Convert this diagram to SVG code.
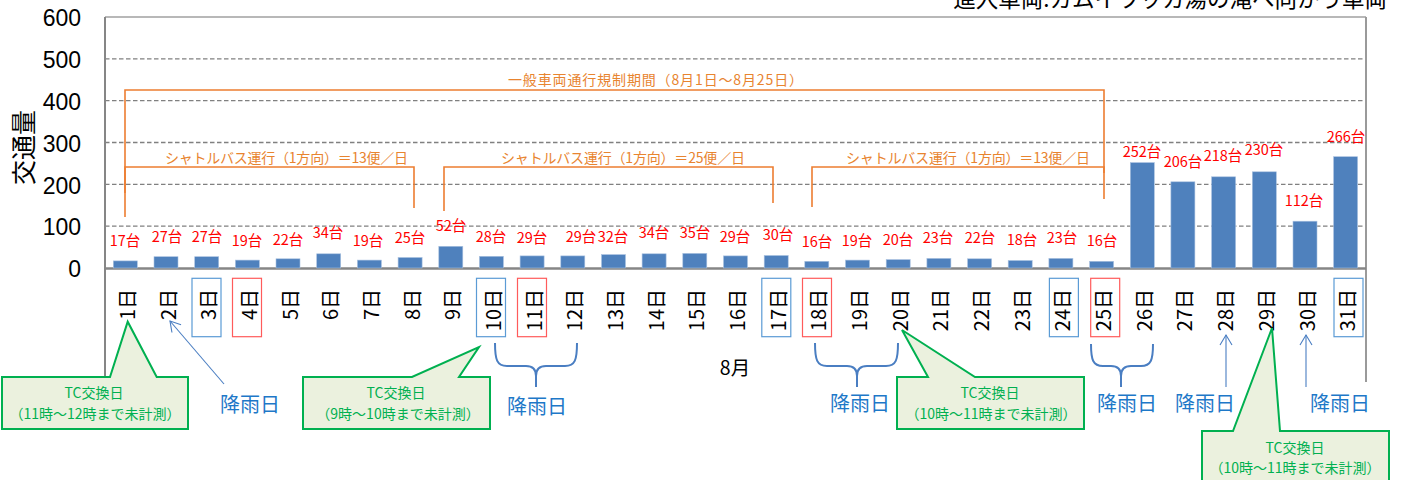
<svg xmlns="http://www.w3.org/2000/svg" width="1404" height="480" viewBox="0 0 1404 480">
<style>
text{font-family:"Noto Sans CJK JP","Liberation Sans",sans-serif}
.ax{font-family:"Liberation Sans","Noto Sans CJK JP",sans-serif;font-size:23px;fill:#000;text-anchor:end}
.grid{stroke:#808080;stroke-width:1.3;stroke-dasharray:4.5 2.5;fill:none}
.bar{fill:#4F81BD;stroke:#A9C1E0;stroke-width:0.6}
.val{font-size:14.5px;fill:#FF0000;text-anchor:middle}
.cat{font-size:20px;fill:#000;text-anchor:end;dominant-baseline:central}
.bb{fill:none;stroke:#5B9BD5;stroke-width:1.2}
.rb{fill:none;stroke:#FF5B5B;stroke-width:1.2}
.or{fill:none;stroke:#ED7D31;stroke-width:1.6}
.ot{font-size:14px;fill:#E8842F}
.br{fill:none;stroke:#4A7EC2;stroke-width:2}
.rain{font-size:20px;fill:#1E78C8;text-anchor:middle}
.arr{stroke:#4A7EC2;stroke-width:1.1;fill:none}
.co{fill:#EBF1DE;stroke:#00B050;stroke-width:2}
.ct{font-size:14px;fill:#00B050;text-anchor:middle}
</style>
<defs>
<marker id="ah" markerUnits="userSpaceOnUse" markerWidth="16" markerHeight="16" viewBox="-12 -8 14 16" refX="0" refY="0" orient="auto">
<path d="M-10,-6 L0,0 L-10,6" fill="none" stroke="#4A7EC2" stroke-width="1.1"/>
</marker>
</defs>
<rect width="1404" height="480" fill="#FFFFFF"/>
<text x="1387" y="7" font-size="22.5" fill="#000" text-anchor="end">進入車両:カムイワッカ湯の滝へ向かう車両</text>
<g id="axes">
<line x1="105" y1="58.8" x2="1366" y2="58.8" class="grid"/>
<line x1="105" y1="100.7" x2="1366" y2="100.7" class="grid"/>
<line x1="105" y1="142.5" x2="1366" y2="142.5" class="grid"/>
<line x1="105" y1="184.3" x2="1366" y2="184.3" class="grid"/>
<line x1="105" y1="226.2" x2="1366" y2="226.2" class="grid"/>
<line x1="105" y1="17" x2="1366" y2="17" stroke="#A0A0A0" stroke-width="1.5"/>
<line x1="1366" y1="17" x2="1366" y2="382" stroke="#9A9A9A" stroke-width="2"/>
<line x1="105" y1="17" x2="105" y2="377" stroke="#868686" stroke-width="2"/>
<line x1="105" y1="268.5" x2="1366" y2="268.5" stroke="#868686" stroke-width="2.5"/>
<text class="ax" x="81" y="26">600</text>
<text class="ax" x="81" y="68">500</text>
<text class="ax" x="81" y="110">400</text>
<text class="ax" x="81" y="152">300</text>
<text class="ax" x="81" y="194">200</text>
<text class="ax" x="81" y="235">100</text>
<text class="ax" x="81" y="277">0</text>
<text transform="translate(22,147.5) rotate(-90)" font-size="25" fill="#000" text-anchor="middle" dominant-baseline="central">交通量</text>
<text x="735" y="375" font-size="19.5" fill="#000" text-anchor="middle">8月</text>
</g>
<g id="bars">
<rect class="bar" x="113.3" y="260.9" width="24" height="7.1"/>
<rect class="bar" x="154.0" y="256.7" width="24" height="11.3"/>
<rect class="bar" x="194.7" y="256.7" width="24" height="11.3"/>
<rect class="bar" x="235.4" y="260.1" width="24" height="7.9"/>
<rect class="bar" x="276.0" y="258.8" width="24" height="9.2"/>
<rect class="bar" x="316.7" y="253.8" width="24" height="14.2"/>
<rect class="bar" x="357.4" y="260.1" width="24" height="7.9"/>
<rect class="bar" x="398.1" y="257.5" width="24" height="10.5"/>
<rect class="bar" x="438.8" y="246.3" width="24" height="21.7"/>
<rect class="bar" x="479.4" y="256.3" width="24" height="11.7"/>
<rect class="bar" x="520.1" y="255.9" width="24" height="12.1"/>
<rect class="bar" x="560.8" y="255.9" width="24" height="12.1"/>
<rect class="bar" x="601.5" y="254.6" width="24" height="13.4"/>
<rect class="bar" x="642.1" y="253.8" width="24" height="14.2"/>
<rect class="bar" x="682.8" y="253.4" width="24" height="14.6"/>
<rect class="bar" x="723.5" y="255.9" width="24" height="12.1"/>
<rect class="bar" x="764.2" y="255.5" width="24" height="12.5"/>
<rect class="bar" x="804.8" y="261.3" width="24" height="6.7"/>
<rect class="bar" x="845.5" y="260.1" width="24" height="7.9"/>
<rect class="bar" x="886.2" y="259.6" width="24" height="8.4"/>
<rect class="bar" x="926.9" y="258.4" width="24" height="9.6"/>
<rect class="bar" x="967.6" y="258.8" width="24" height="9.2"/>
<rect class="bar" x="1008.2" y="260.5" width="24" height="7.5"/>
<rect class="bar" x="1048.9" y="258.4" width="24" height="9.6"/>
<rect class="bar" x="1089.6" y="261.3" width="24" height="6.7"/>
<rect class="bar" x="1130.3" y="162.6" width="24" height="105.4"/>
<rect class="bar" x="1170.9" y="181.8" width="24" height="86.2"/>
<rect class="bar" x="1211.6" y="176.8" width="24" height="91.2"/>
<rect class="bar" x="1252.3" y="171.8" width="24" height="96.2"/>
<rect class="bar" x="1293.0" y="221.2" width="24" height="46.8"/>
<rect class="bar" x="1333.6" y="156.7" width="24" height="111.3"/>
</g>
<g id="values">
<text class="val" x="125" y="246">17台</text>
<text class="val" x="167" y="242">27台</text>
<text class="val" x="207" y="242">27台</text>
<text class="val" x="247" y="246">19台</text>
<text class="val" x="288" y="245">22台</text>
<text class="val" x="328" y="238">34台</text>
<text class="val" x="368" y="246">19台</text>
<text class="val" x="410" y="243">25台</text>
<text class="val" x="451" y="231">52台</text>
<text class="val" x="491" y="242">28台</text>
<text class="val" x="532" y="243">29台</text>
<text class="val" x="581" y="242">29台</text>
<text class="val" x="613" y="242">32台</text>
<text class="val" x="654" y="238">34台</text>
<text class="val" x="695" y="238">35台</text>
<text class="val" x="735" y="242">29台</text>
<text class="val" x="778" y="240">30台</text>
<text class="val" x="817" y="247">16台</text>
<text class="val" x="857" y="246">19台</text>
<text class="val" x="898" y="245">20台</text>
<text class="val" x="938" y="243">23台</text>
<text class="val" x="980" y="243">22台</text>
<text class="val" x="1022" y="245">18台</text>
<text class="val" x="1062" y="243">23台</text>
<text class="val" x="1102" y="246">16台</text>
<text class="val" x="1142" y="157">252台</text>
<text class="val" x="1183" y="167">206台</text>
<text class="val" x="1223" y="161">218台</text>
<text class="val" x="1264" y="155">230台</text>
<text class="val" x="1304" y="206">112台</text>
<text class="val" x="1346" y="142">266台</text>
</g>
<g id="categories">
<text class="cat" transform="translate(126.3,289) rotate(-90)">1日</text>
<text class="cat" transform="translate(167,289) rotate(-90)">2日</text>
<text class="cat" transform="translate(207.7,289) rotate(-90)">3日</text>
<text class="cat" transform="translate(248.4,289) rotate(-90)">4日</text>
<text class="cat" transform="translate(289,289) rotate(-90)">5日</text>
<text class="cat" transform="translate(329.7,289) rotate(-90)">6日</text>
<text class="cat" transform="translate(370.4,289) rotate(-90)">7日</text>
<text class="cat" transform="translate(411.1,289) rotate(-90)">8日</text>
<text class="cat" transform="translate(451.8,289) rotate(-90)">9日</text>
<text class="cat" transform="translate(492.4,289) rotate(-90)">10日</text>
<text class="cat" transform="translate(533.1,289) rotate(-90)">11日</text>
<text class="cat" transform="translate(573.8,289) rotate(-90)">12日</text>
<text class="cat" transform="translate(614.5,289) rotate(-90)">13日</text>
<text class="cat" transform="translate(655.1,289) rotate(-90)">14日</text>
<text class="cat" transform="translate(695.8,289) rotate(-90)">15日</text>
<text class="cat" transform="translate(736.5,289) rotate(-90)">16日</text>
<text class="cat" transform="translate(777.2,289) rotate(-90)">17日</text>
<text class="cat" transform="translate(817.8,289) rotate(-90)">18日</text>
<text class="cat" transform="translate(858.5,289) rotate(-90)">19日</text>
<text class="cat" transform="translate(899.2,289) rotate(-90)">20日</text>
<text class="cat" transform="translate(939.9,289) rotate(-90)">21日</text>
<text class="cat" transform="translate(980.6,289) rotate(-90)">22日</text>
<text class="cat" transform="translate(1021.2,289) rotate(-90)">23日</text>
<text class="cat" transform="translate(1061.9,289) rotate(-90)">24日</text>
<text class="cat" transform="translate(1102.6,289) rotate(-90)">25日</text>
<text class="cat" transform="translate(1143.3,289) rotate(-90)">26日</text>
<text class="cat" transform="translate(1183.9,289) rotate(-90)">27日</text>
<text class="cat" transform="translate(1224.6,289) rotate(-90)">28日</text>
<text class="cat" transform="translate(1265.3,289) rotate(-90)">29日</text>
<text class="cat" transform="translate(1306,289) rotate(-90)">30日</text>
<text class="cat" transform="translate(1346.6,289) rotate(-90)">31日</text>
<rect class="bb" x="192" y="278.3" width="29" height="58.4"/>
<rect class="rb" x="232.5" y="278.3" width="29" height="58.4"/>
<rect class="bb" x="476.5" y="278.3" width="29" height="58.4"/>
<rect class="rb" x="517.5" y="278.3" width="29" height="58.4"/>
<rect class="bb" x="761.8" y="278.3" width="29" height="58.4"/>
<rect class="rb" x="802.5" y="278.3" width="29" height="58.4"/>
<rect class="bb" x="1049.4" y="278.3" width="29" height="58.4"/>
<rect class="rb" x="1090.7" y="278.3" width="29" height="58.4"/>
<rect class="bb" x="1334" y="278.3" width="29" height="58.4"/>
</g>
<g id="connectors">
<path class="or" d="M125,193 L125,90 L1104,90 L1104,173"/>
<path class="or" d="M125,217 L125,167 L414,167 L414,208"/>
<path class="or" d="M444,211 L444,167 L773,167 L773,203"/>
<path class="or" d="M812,207 L812,167 L1104,167 L1104,199"/>
<path class="br" d="M495,343 C495,360 497,366 507,366 L526,366 C533,366 536,370 536,376 L536,387 M536,376 C536,370 539,366 546,366 L565,366 C575,366 577,360 577,343"/>
<path class="br" d="M815,343 C815,360 817,366 827,366 L847,366 C854,366 857,370 857,376 L857,387 M857,376 C857,370 860,366 867,366 L886,366 C896,366 898,360 898,343"/>
<path class="br" d="M1091,344 C1091,360 1093,366 1103,366 L1111,366 C1118,366 1121,370 1121,376 L1121,387 M1121,376 C1121,370 1124,366 1131,366 L1141,366 C1151,366 1153,360 1153,344"/>
<line class="arr" x1="224" y1="384" x2="170" y2="321" marker-end="url(#ah)"/>
<line class="arr" x1="1226" y1="387" x2="1226" y2="335" marker-end="url(#ah)"/>
<line class="arr" x1="1306" y1="387" x2="1306" y2="335" marker-end="url(#ah)"/>
</g>
<g id="period-labels">
<text class="ot" x="508" y="85" font-size="14.5" textLength="295" lengthAdjust="spacing">一般車両通行規制期間（8月1日～8月25日）</text>
<text class="ot" x="165" y="163" textLength="243" lengthAdjust="spacing">シャトルバス運行（1方向）＝13便／日</text>
<text class="ot" x="501" y="163" textLength="244" lengthAdjust="spacing">シャトルバス運行（1方向）＝25便／日</text>
<text class="ot" x="846" y="163" textLength="244" lengthAdjust="spacing">シャトルバス運行（1方向）＝13便／日</text>
</g>
<g id="rain-labels">
<text class="rain" x="250" y="412">降雨日</text>
<text class="rain" x="537" y="414">降雨日</text>
<text class="rain" x="860" y="411">降雨日</text>
<text class="rain" x="1127" y="411">降雨日</text>
<text class="rain" x="1205" y="411">降雨日</text>
<text class="rain" x="1340" y="411">降雨日</text>
</g>
<g id="callout1">
<path class="co" d="M2,377 L110,377 L127.7,321.7 L156.7,377 L188,377 L188,429 L2,429 Z"/>
<text class="ct" x="94" y="398">TC交換日</text>
<text class="ct" x="95" y="419">（11時～12時まで未計測）</text>
</g>
<g id="callout2">
<path class="co" d="M303,377 L412,377 L479,347 L459,377 L490,377 L490,429 L303,429 Z"/>
<text class="ct" x="396" y="398">TC交換日</text>
<text class="ct" x="398" y="419">（9時～10時まで未計測）</text>
</g>
<g id="callout3">
<path class="co" d="M897,377 L928,377 L902,330 L975,377 L1084,377 L1084,429 L897,429 Z"/>
<text class="ct" x="990" y="398">TC交換日</text>
<text class="ct" x="991" y="419">（10時～11時まで未計測）</text>
</g>
<g id="callout4">
<path class="co" d="M1202,431 L1233,431 L1272,328 L1280,431 L1389,431 L1389,482 L1202,482 Z"/>
<text class="ct" x="1295" y="453">TC交換日</text>
<text class="ct" x="1295" y="473">（10時～11時まで未計測）</text>
</g>
</svg>
